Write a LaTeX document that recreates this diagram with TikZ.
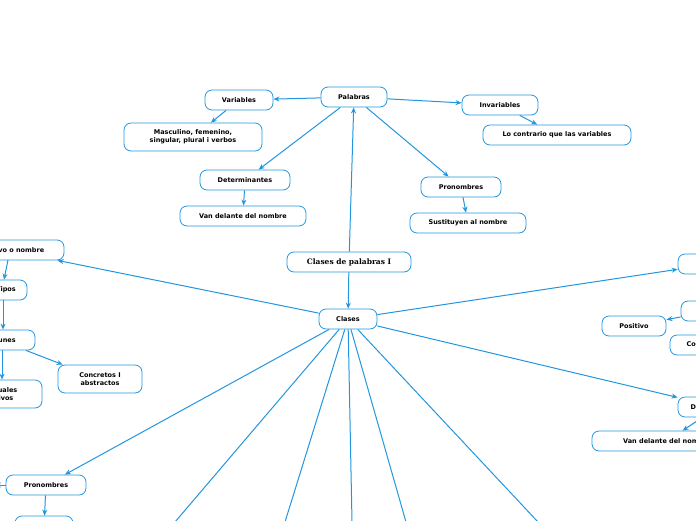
\documentclass[tikz,border=0pt]{standalone}
\usepackage{fontspec}
\setmainfont{DejaVu Sans}
\newfontfamily\serifb{DejaVu Serif}
\usetikzlibrary{arrows.meta}
\definecolor{mb}{RGB}{33,150,222}
\tikzset{
 bx/.style={draw=mb,line width=0.8pt,rounded corners=7pt,fill=white,minimum height=20pt,font=\bfseries\fontsize{6.5}{8}\selectfont,align=center,inner sep=2pt},
 ar/.style={draw=mb,line width=1pt,-{Stealth[length=6pt,width=5pt]}},
 ln/.style={draw=mb,line width=1pt}
}
\begin{document}
\begin{tikzpicture}[x=1pt,y=-1pt]
\useasboundingbox (0,0) rectangle (696,520);
\begin{scope}
\clip (0,0) rectangle (696,520);
\node[bx,minimum width=124pt,font=\serifb\bfseries\fontsize{7.5}{9}\selectfont] (cp) at (349,262) {Clases de palabras I};
\node[bx,minimum width=58pt] (cl) at (348,319) {Clases};
\node[bx,minimum width=66pt] (pa) at (354,97) {Palabras};
\node[bx,minimum width=68pt] (va) at (239,100) {Variables};
\node[bx,minimum width=138pt,minimum height=28pt] (ma) at (193,137) {Masculino, femenino,\\singular, plural i verbos};
\node[bx,minimum width=90pt] (de) at (245,180) {Determinantes};
\node[bx,minimum width=126pt] (vd) at (243,216) {Van delante del nombre};
\node[bx,minimum width=76pt] (in) at (500,105) {Invariables};
\node[bx,minimum width=148pt] (lc) at (557,135) {Lo contrario que las variables};
\node[bx,minimum width=80pt] (pr) at (461,187) {Pronombres};
\node[bx,minimum width=116pt] (su) at (468,223) {Sustituyen al nombre};
% left
\node[bx,minimum width=116pt] (sn) at (6,250) {Sustantivo o nombre};
\node[bx,minimum width=42pt] (ti) at (6,290) {Tipos};
\node[bx,minimum width=72pt] (co) at (-1,340) {Comunes};
\node[bx,minimum width=94pt,minimum height=28pt] (iv) at (-5,394) {Individuales\\colectivos};
\node[bx,minimum width=84pt,minimum height=28pt] (ca) at (100,379) {Concretos I\\abstractos};
\node[bx,minimum width=80pt] (pl) at (46,485) {Pronombres};
\node[bx,minimum width=58pt] (pb) at (44,526) {};
\coordinate (plw) at (-5,485);
% right
\node[bx,minimum width=70pt] (ad) at (713,264) {Adjetivo};
\node[bx,minimum width=60pt] (gr) at (711,311) {Grado};
\node[bx,minimum width=64pt] (po) at (634,326) {Positivo};
\node[bx,minimum width=80pt] (cm) at (710,345) {Comparativo};
\node[bx,minimum width=80pt] (dt) at (718,407) {Determinantes};
\node[bx,minimum width=150pt] (vd2) at (667,441) {Van delante del nombre};
\coordinate (b1) at (175,522);
\coordinate (b2) at (285,522);
\coordinate (b3) at (352,522);
\coordinate (b4) at (406,522);
\coordinate (b5) at (538,522);
\coordinate (s1) at (8,260);
\coordinate (t1) at (3,300);
\coordinate (c1) at (2,350);
\draw[ar] (cp) -- (cl);
\draw[ar] (cp) -- (pa);
\draw[ar] (pa) -- (va);
\draw[ar] (pa) -- (de);
\draw[ar] (pa) -- (in);
\draw[ar] (pa) -- (pr);
\draw[ar] (va) -- (ma);
\draw[ar] (de) -- (vd);
\draw[ar] (in) -- (lc);
\draw[ar] (pr) -- (su);
\draw[ar] (cl) -- (sn);
\draw[ar] (cl) -- (ad);
\draw[ar] (cl) -- (dt);
\draw[ar] (cl) -- (pl);
\draw[ln] (cl) -- (b1);
\draw[ln] (cl) -- (b2);
\draw[ln] (cl) -- (b3);
\draw[ln] (cl) -- (b4);
\draw[ln] (cl) -- (b5);
\draw[ar] (s1) -- (ti.north -| 4,0);
\draw[ar] (t1) -- (co.north -| 3,0);
\draw[ar] (co) -- (ca);
\draw[ar] (c1) -- (iv.north -| 2,0);
\draw[ar] (pl) -- (pb);
\draw[ar] (pl) -- (plw);
\draw[ar] (gr) -- (po);
\draw[ar] (dt) -- (vd2);
\end{scope}
\end{tikzpicture}
\end{document}
